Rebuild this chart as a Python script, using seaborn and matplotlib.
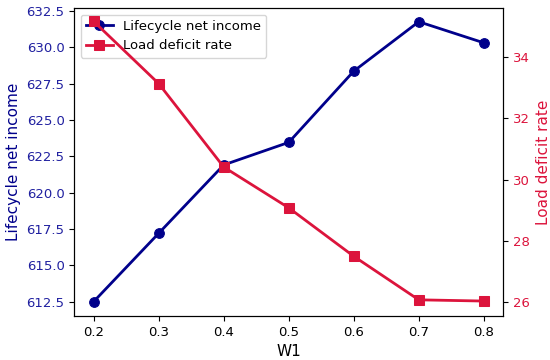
import matplotlib
matplotlib.use("Agg")
import matplotlib.pyplot as plt
import seaborn as sns
import pandas as pd

w1 = [0.2, 0.3, 0.4, 0.5, 0.6, 0.7, 0.8]
net_income = [612.5, 617.2, 621.9, 623.45, 628.35, 631.75, 630.3]
deficit_rate = [35.16, 33.13, 30.41, 29.08, 27.5, 26.08, 26.04]
income_ticks = [612.5, 615.0, 617.5, 620.0, 622.5, 625.0, 627.5, 630.0, 632.5]
deficit_ticks = [26, 28, 30, 32, 34]

df = pd.DataFrame({"W1": w1, "income": net_income, "deficit": deficit_rate})

c1 = "#00008B"
c2 = "#DC143C"

fig = plt.figure(figsize=(5.5, 3.6), dpi=100)
ax1 = fig.add_axes([0.135, 0.122, 0.78, 0.856])
ax2 = ax1.twinx()

sns.lineplot(data=df, x="W1", y="income", ax=ax1, color=c1, marker="o",
             markersize=7, linewidth=2, markeredgecolor=c1, label="Lifecycle net income", legend=False)
sns.lineplot(data=df, x="W1", y="deficit", ax=ax2, color=c2, marker="s",
             markersize=7, linewidth=2, markeredgecolor=c2, label="Load deficit rate", legend=False)

ax1.set_xlabel("W1", fontsize=11)
ax1.set_ylabel("Lifecycle net income", color=c1, fontsize=11)
ax2.set_ylabel("Load deficit rate", color=c2, fontsize=11)
ax1.tick_params(axis="y", labelcolor="#2020A0", color="black", labelsize=9.5)
ax1.tick_params(axis="x", labelsize=9.5)
ax2.tick_params(axis="y", labelcolor=c2, color="black", labelsize=9.5)

ax1.set_xticks(w1)
ax1.set_yticks(income_ticks)
ax1.set_yticklabels([f"{v:.1f}" for v in income_ticks])
ax1.set_ylim(611.5, 632.7)
ax2.set_yticks(deficit_ticks)
ax2.set_ylim(25.55, 35.6)
ax1.set_xlim(0.17, 0.83)

h1, l1 = ax1.get_legend_handles_labels()
h2, l2 = ax2.get_legend_handles_labels()
ax1.legend(h1 + h2, l1 + l2, loc="upper left", fontsize=9.5)

fig.savefig("out.png", dpi=100)
